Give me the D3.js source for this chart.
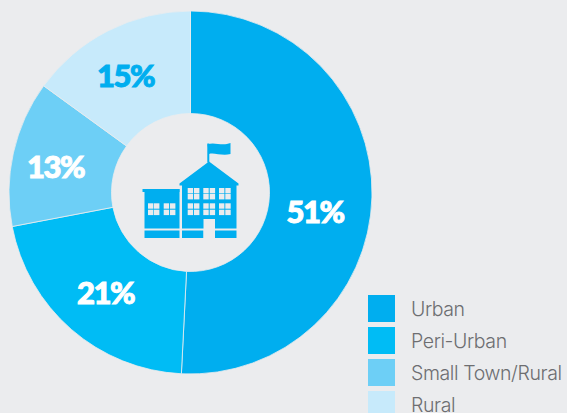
<!DOCTYPE html>
<html><head><meta charset="utf-8">
<script src="https://cdn.jsdelivr.net/npm/d3@7/dist/d3.min.js"></script>
<style>html,body{margin:0;padding:0;background:#ebecee}svg{display:block}</style></head>
<body><svg id="c" width="567" height="413"></svg>
<script>
const categories = ["Urban","Peri-Urban","Small Town/Rural","Rural"];
const sliceValues = [50.8,21.2,13,15];
const labels = ["51%","21%","13%","15%"];
const colors = ["#00aeef","#00bcf5","#6dcff6","#c7eafb"];
const labelColors = ["#ffffff","#ffffff","#ffffff","#00aeef"];

const svg = d3.select("#c");
const cx = 190.5, cy = 192.5, R = 181.5, r = 79;
const pie = d3.pie().sort(null).value(d => d)(sliceValues);
const arc = d3.arc().innerRadius(r).outerRadius(R);
const g = svg.append("g").attr("transform", `translate(${cx},${cy})`);
g.selectAll("path").data(pie).join("path")
  .attr("d", arc).attr("fill", (d,i) => colors[i])
  .attr("stroke", "#ebecee").attr("stroke-width", 0.8);
const labelPos = [[286.5,212],[77,293],[27,167],[97,76]];
svg.selectAll("text.pct").data(labels).join("text").attr("class","pct")
  .attr("x",(d,i)=>labelPos[i][0]).attr("y",(d,i)=>labelPos[i][1]+11)
  .attr("font-family","Lato, sans-serif").attr("font-weight",900).attr("font-size",31)
  .attr("letter-spacing",-1.5)
  .attr("stroke",(d,i)=>labelColors[i]).attr("stroke-width",1)
  .attr("fill",(d,i)=>labelColors[i]).text(d=>d);

// school icon
const blue = "#00aeef", bg = "#ebecee";
const ic = svg.append("g");
const rect=(x,y,w,h,f=blue)=>ic.append("rect").attr("x",x).attr("y",y).attr("width",w).attr("height",h).attr("fill",f);
rect(142.5,189,37,3); rect(144.5,189,35,39.5); rect(144.5,230.5,35,7.5);
ic.append("path").attr("fill",blue).attr("d","M179.5 183.5L209 161.5L238.5 183.5L238.5 185.5L236.5 185.5L236.5 228.5L182 228.5L182 185.5L179.5 185.5Z");
rect(182,230.5,21.5,7.5); rect(215,230.5,21.5,7.5);
rect(203.5,219,11.5,20,bg);
rect(207.3,143.5,2,19);
ic.append("path").attr("fill",blue).attr("d","M207.5 144.5C214 141.5 222 146.5 230.5 143L230.5 154C222 156.5 214 152 209 154Z");
const cols=[187.7,194,203.3,209.7,219,225.3], rows=[188,194,203.3,209.7];
cols.forEach(x=>rows.forEach(y=>rect(x,y,5.4,5.4,bg)));
[148,154,163.7,170].forEach(x=>[203.3,209.7].forEach(y=>rect(x,y,5.4,5.4,bg)));

// legend
const ly = d3.scalePoint().domain(categories).range([295,391]);
svg.selectAll("rect.sw").data(categories).join("rect").attr("class","sw")
  .attr("x",368).attr("y",d=>ly(d)).attr("width",27).attr("height",27).attr("fill",(d,i)=>colors[i]);
svg.selectAll("text.lg").data(categories).join("text").attr("class","lg")
  .attr("x",411).attr("y",d=>ly(d)+20.5).attr("font-family","Inter, sans-serif").attr("font-weight",300)
  .attr("font-size",19.5).attr("letter-spacing",-0.4).attr("fill","#6d6e71").text(d=>d);
</script></body></html>
